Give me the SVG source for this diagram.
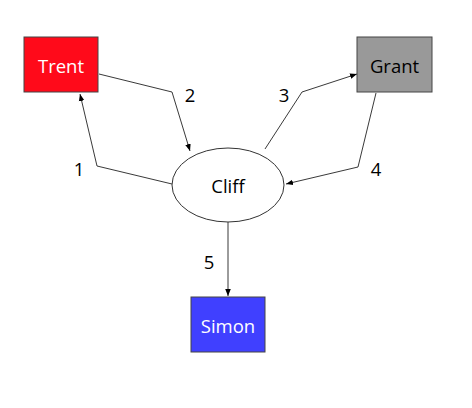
<svg xmlns="http://www.w3.org/2000/svg" width="472" height="408" viewBox="0 0 472 408">
<style>
.node rect{stroke:#444;stroke-width:1}
.lbl{font-family:"Open Sans","DejaVu Sans",sans-serif;font-size:18.5px;text-anchor:middle;dominant-baseline:central}
.edge{fill:none;stroke:#222;stroke-width:0.9;marker-end:url(#ah)}
.num{font-family:"Open Sans","DejaVu Sans",sans-serif;font-size:18.5px;fill:#000;text-anchor:middle;dominant-baseline:central}
</style>
<defs>
<marker id="ah" viewBox="0 0 10 10" refX="10" refY="5" markerWidth="7" markerHeight="7" markerUnits="userSpaceOnUse" orient="auto">
<path d="M0,1 L10,5 L0,9 Z" fill="#000"/>
</marker>
</defs>
<rect width="472" height="408" fill="#fff"/>
<g id="connectors">
<polyline class="edge" points="172,184 97,166 80,94"/>
<polyline class="edge" points="99,74 172,92 190,151"/>
<polyline class="edge" points="265,149 302,92 357,74"/>
<polyline class="edge" points="376,93 358,167 286,184"/>
<polyline class="edge" points="228,222 228,296"/>
<text class="num" x="79" y="168">1</text>
<text class="num" x="190" y="94">2</text>
<text class="num" x="284" y="94">3</text>
<text class="num" x="376" y="168">4</text>
<text class="num" x="209" y="261">5</text>
</g>
<g id="Trent" class="node">
<rect x="24" y="37" width="74" height="55" fill="#ff0a1a"/>
<text class="lbl" x="61" y="65" fill="#fff">Trent</text>
</g>
<g id="Grant" class="node">
<rect x="357" y="37" width="75" height="55" fill="#999999"/>
<text class="lbl" x="394.500" y="65" fill="#000">Grant</text>
</g>
<g id="Cliff" class="node">
<ellipse cx="228" cy="185" rx="56" ry="37" fill="#fff" stroke="#333" stroke-width="1"/>
<text class="lbl" x="228" y="185" fill="#000">Cliff</text>
</g>
<g id="Simon" class="node">
<rect x="191" y="297" width="74" height="55" fill="#4040ff"/>
<text class="lbl" x="228" y="325" fill="#fff">Simon</text>
</g>
</svg>
